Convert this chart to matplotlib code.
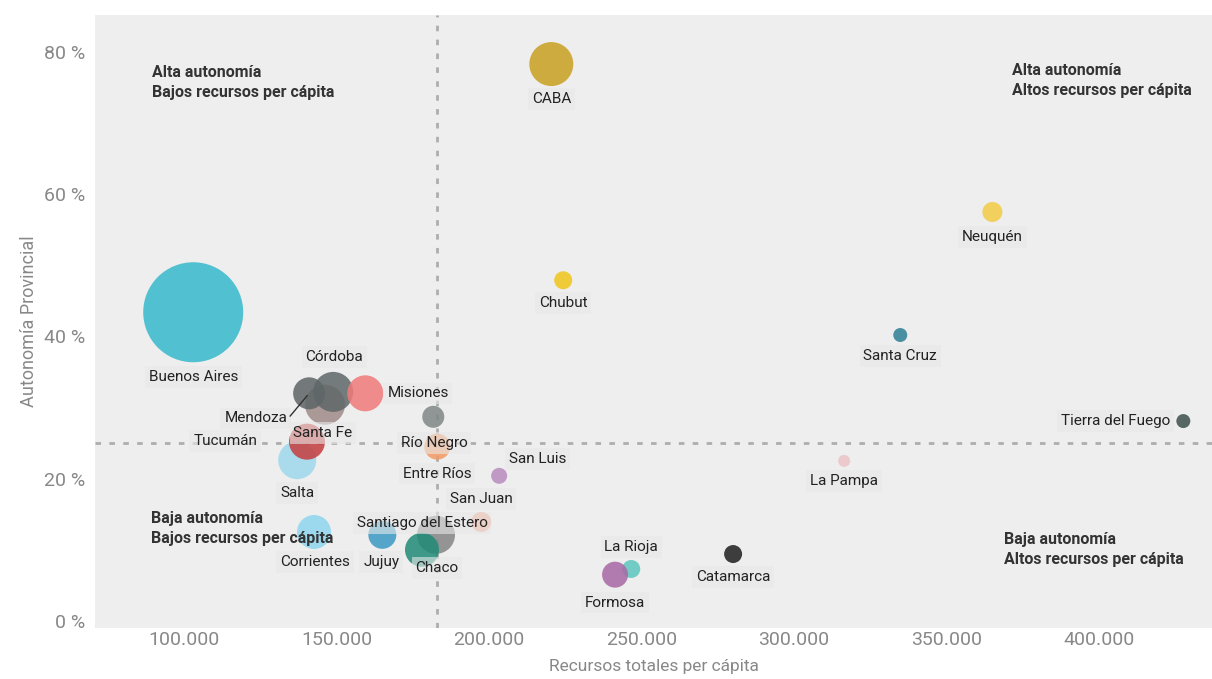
import matplotlib.pyplot as plt
from matplotlib.ticker import FuncFormatter

plt.rcParams['font.family'] = ['Roboto', 'DejaVu Sans']

# Datos
provincias = ['Buenos Aires', 'CABA', 'Chubut', 'Neuquén', 'Santa Cruz', 'Tierra del Fuego',
              'La Pampa', 'Catamarca', 'La Rioja', 'Formosa', 'San Luis', 'San Juan',
              'Santiago del Estero', 'Chaco', 'Jujuy', 'Corrientes', 'Salta', 'Tucumán',
              'Santa Fe', 'Mendoza', 'Córdoba', 'Misiones', 'Río Negro', 'Entre Ríos']
recursos = [103000, 220400, 224300, 365000, 334800, 427600,
            316400, 280000, 246600, 241300, 203300, 197400,
            182600, 178000, 165000, 142600, 137100, 140300,
            146200, 141000, 148900, 159400, 181700, 183000]
autonomia = [43.4, 78.3, 47.9, 57.5, 40.2, 28.1,
             22.5, 9.4, 7.3, 6.5, 20.4, 13.9,
             12.1, 10.0, 12.1, 12.5, 22.6, 25.2,
             30.4, 32.0, 32.2, 32.0, 28.7, 24.5]
# tamaño relativo de cada burbuja
peso = [50, 22, 9, 10, 7, 7,
        6, 9, 9, 13, 8, 10,
        19, 17, 14, 17, 19, 18,
        20, 16, 20, 18, 11, 13]
colores = ['#36B8CC', '#C9A020', '#F0C419', '#F2CB45', '#2E7F96', '#3C4F4C',
           '#EBC3C6', '#1E1E1E', '#5CC7BE', '#A867A6', '#B88BBE', '#F2A787',
           '#858585', '#1F8A76', '#3A98C4', '#8ED6EE', '#9ED8EC', '#C43C3C',
           '#A08A88', '#5D6566', '#5F6768', '#F07A7A', '#7F8786', '#F39A62']
# desplazamiento de la etiqueta (px) y alineacion
etiqueta_dx = [0, 0, 0, 0, 0, -13,
               0, 0, 0, 0, 10, 0,
               -14, 15, -1, 1, 0, -50,
               -2, -22, 1, 22, 1, 0]
etiqueta_dy = [-65, -35, -23, -25, -21, 0,
               -20, -23, 22, -28, 17, 23,
               12, -18, -27, -30, -33, 1,
               -28, -25, 35, 0, -26, -27]
etiqueta_ha = ['center', 'center', 'center', 'center', 'center', 'right',
               'center', 'center', 'center', 'center', 'left', 'center',
               'center', 'center', 'center', 'center', 'center', 'right',
               'center', 'right', 'center', 'left', 'center', 'center']

corte_x = 183000
corte_y = 25

fig = plt.figure(figsize=(12.12, 6.79), dpi=100)
ax = fig.add_axes([95 / 1212, 1 - 628 / 679, 1117 / 1212, 613 / 679])
ax.set_facecolor('#EEEEEE')

ax.axvline(corte_x, color='#ADADAD', ls=(0, (2, 3)), lw=2, zorder=1)
ax.axhline(corte_y, color='#ADADAD', ls=(0, (2, 3)), lw=2, zorder=1)

sizes = [(2 * r * 0.72) ** 2 for r in peso]
ax.scatter(recursos, autonomia, s=sizes, c=colores, alpha=0.85, linewidths=0, zorder=2)

for i, nombre in enumerate(provincias):
    ax.annotate(nombre, (recursos[i], autonomia[i]),
                xytext=(etiqueta_dx[i] * 0.72, etiqueta_dy[i] * 0.72), textcoords='offset points',
                ha=etiqueta_ha[i], va='center', fontsize=11, color='#222222', zorder=3,
                bbox=dict(boxstyle='square,pad=0.25', fc='#E8E8E8', ec='none', alpha=0.6))

# linea guia de Mendoza
i_m = provincias.index('Mendoza')
ax.annotate('', xy=(recursos[i_m], autonomia[i_m]), xytext=(-15, -18), textcoords='offset points',
            arrowprops=dict(arrowstyle='-', color='#333333', lw=1), zorder=3)

cuadrantes = [
    (0.051, 0.890, 'Alta autonomía\nBajos recursos per cápita'),
    (0.821, 0.893, 'Alta autonomía\nAltos recursos per cápita'),
    (0.050, 0.162, 'Baja autonomía\nBajos recursos per cápita'),
    (0.814, 0.128, 'Baja autonomía\nAltos recursos per cápita'),
]
for x, y, txt in cuadrantes:
    ax.text(x, y, txt, transform=ax.transAxes, fontsize=11.5, fontweight='bold',
            color='#333333', va='center', ha='left', linespacing=1.4)

ax.set_xlim(70800, 437000)
ax.set_ylim(-1.0, 85.2)
ax.set_xticks([100000, 150000, 200000, 250000, 300000, 350000, 400000])
ax.set_yticks([0, 20, 40, 60, 80])
ax.xaxis.set_major_formatter(FuncFormatter(lambda v, p: f'{int(v):,}'.replace(',', '.')))
ax.yaxis.set_major_formatter(FuncFormatter(lambda v, p: f'{int(v)} %'))
ax.tick_params(axis='y', length=0, labelsize=14, labelcolor='#888888', pad=7)
ax.tick_params(axis='x', length=0, labelsize=14, labelcolor='#888888', pad=2)
for s in ax.spines.values():
    s.set_visible(False)

ax.set_xlabel('Recursos totales per cápita', fontsize=12.5, color='#888888', labelpad=7)
ax.set_ylabel('Autonomía Provincial', fontsize=13, color='#888888', labelpad=4)

fig.savefig('out.png', dpi=100)
